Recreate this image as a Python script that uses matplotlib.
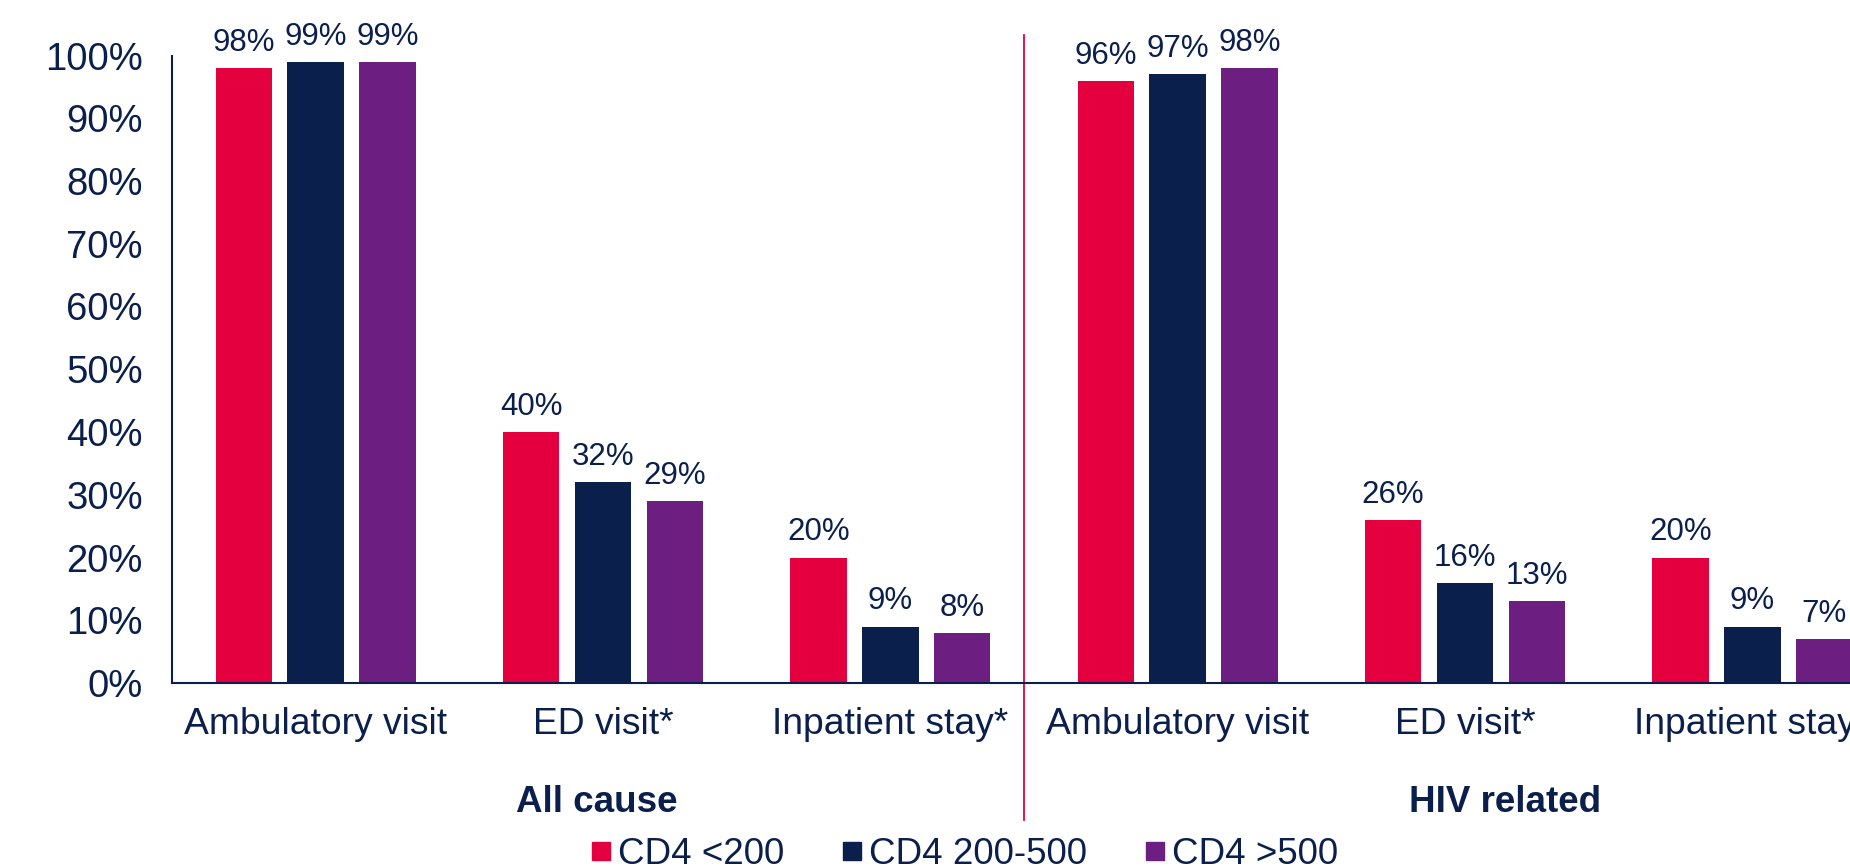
import matplotlib
matplotlib.use("Agg")
import matplotlib.pyplot as plt
import matplotlib.transforms as mtransforms
from matplotlib.lines import Line2D
import numpy as np

plt.rcParams['font.family'] = ['Liberation Sans', 'DejaVu Sans']

categories = ["Ambulatory visit", "ED visit*", "Inpatient stay*",
              "Ambulatory visit", "ED visit*", "Inpatient stay*"]
groups = ["All cause", "HIV related"]
series_names = ["CD4 <200", "CD4 200-500", "CD4 >500"]
cd4_lt200 = [98, 40, 20, 96, 26, 20]
cd4_200_500 = [99, 32, 9, 97, 16, 9]
cd4_gt500 = [99, 29, 8, 98, 13, 7]
yticks = [0, 10, 20, 30, 40, 50, 60, 70, 80, 90, 100]

NAVY = "#0A1F4B"
RED = "#E4003F"
PURPLE = "#6C1F80"
colors = [RED, NAVY, PURPLE]

fig = plt.figure(figsize=(18.5, 8.68), dpi=100)
ax = fig.add_axes([172/1850, 1-683/868, 1-172/1850, (683-55.5)/868])

x = np.arange(len(categories))
width = 0.197
offsets = [-0.25, 0, 0.25]
series = [cd4_lt200, cd4_200_500, cd4_gt500]
for vals, off, c in zip(series, offsets, colors):
    bars = ax.bar(x + off, vals, width, color=c, zorder=2)
    for b, v in zip(bars, vals):
        ax.text(b.get_x() + b.get_width()/2, v + 1.6, f"{v}%",
                ha='center', va='bottom', fontsize=22.5, color=NAVY)

ax.set_ylim(0, 100)
ax.set_xlim(-0.5, 5.34)
ax.set_yticks(yticks)
ax.set_yticklabels([f"{t}%" for t in yticks], fontsize=27.5, color=NAVY)
ax.set_xticks(x)
ax.set_xticklabels(categories, fontsize=26.8, color=NAVY)
ax.tick_params(axis='both', length=0)
ax.tick_params(axis='x', pad=17)
ax.tick_params(axis='y', pad=21)
for s in ['top', 'right']:
    ax.spines[s].set_visible(False)
for s in ['left', 'bottom']:
    ax.spines[s].set_color(NAVY)
    ax.spines[s].set_linewidth(1.5)

trans = mtransforms.blended_transform_factory(ax.transData, ax.transAxes)
ax.plot([2.465, 2.465], [-0.218, 1.033], color=RED, lw=1.3,
        transform=trans, clip_on=False)

ax.text(0.978, -0.19, groups[0], transform=trans, ha='center', va='center',
        fontsize=26.5, fontweight='bold', color=NAVY)
ax.text(4.14, -0.19, groups[1], transform=trans, ha='center', va='center',
        fontsize=26.5, fontweight='bold', color=NAVY)

handles = [Line2D([0], [0], marker='s', linestyle='none', markersize=13,
                  markerfacecolor=c, markeredgecolor=c) for c in colors]
fig.legend(handles, series_names, loc='center', bbox_to_anchor=(965/1850, 1-854/868),
           ncol=3, frameon=False, fontsize=26.5, handlelength=0.5,
           handletextpad=0.2, columnspacing=1.6, labelcolor=NAVY,
           borderpad=0, borderaxespad=0)

fig.savefig("out.png", dpi=100)
